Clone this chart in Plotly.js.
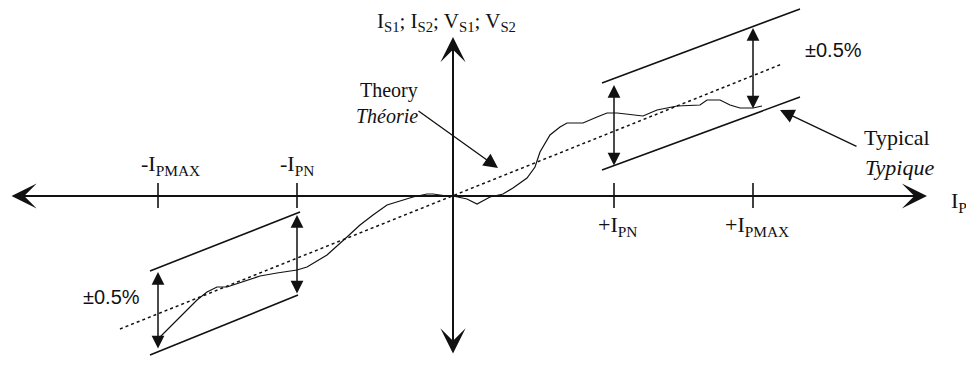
<!DOCTYPE html>
<html>
<head>
<meta charset="utf-8">
<script src="https://cdn.plot.ly/plotly-3.0.1.min.js"></script>
<style>
  html, body { margin: 0; padding: 0; background: #fff; }
  #plot { width: 966px; height: 368px; }
</style>
</head>
<body>
<div id="plot"></div>
<script>
/* schematic: units are roughly pixels from the origin */

// measured "typical" response curve
var typX = [-296, -283, -266, -256, -246, -236, -226, -210, -193, -176, -156, -146, -126, -106, -93, -80, -66, -53, -40, -26, -20, -6, 0, 14, 24, 37, 50, 60, 74, 82, 87, 97, 107, 114, 130, 144, 154, 164, 180, 190, 204, 224, 247, 254, 267, 277, 287, 300, 309];
var typY = [-144, -131, -114, -104, -96, -91, -91, -86, -80, -77, -74, -71, -59, -41, -29, -19, -9, -5, -1, 2, 2, 0, 0, -3, -8, -1, 2, 8, 18, 29, 44, 61, 69, 73, 73, 79, 83, 83, 81, 80, 86, 90, 91, 96, 96, 91, 88, 88, 90];

// theory line (dotted)
var theoryX = [-333, 329];
var theoryY = [-133, 132];

// +/-0.5% tolerance bands
var bandLeftUpX = [-303, -153], bandLeftUpY = [-75, -16];
var bandLeftLoX = [-303, -155], bandLeftLoY = [-159, -99];
var bandRightUpX = [149, 347], bandRightUpY = [113, 187];
var bandRightLoX = [149, 347], bandRightLoY = [26, 99];

// x axis ticks
var tickX = [-295, -156, 161, 300];
var tickText = ['-I<sub>PMAX</sub>', '-I<sub>PN</sub>', '+I<sub>PN</sub>', '+I<sub>PMAX</sub>'];
var tickTextY = [31, 31, -30, -30];
var tickTextX = [-314, -175, 143, 270];

// double arrows showing the tolerance
var dblX = [-295, -156, 161, 300];
var dblTop = [-76, -19, 111, 168];
var dblBot = [-154, -99, 29, 86];

// axis extents
var axisXmin = -443, axisXmax = 474;
var axisYmin = -159, axisYmax = 159;

var black = '#111';
var serif = 'Liberation Serif, Times New Roman, serif';

function seg(x, y, w, dash) {
  return {x: x, y: y, type: 'scatter', mode: 'lines', hoverinfo: 'skip',
          line: {color: black, width: w, dash: dash || 'solid'}};
}

var data = [
  seg(theoryX, theoryY, 1.5, 'dot'),
  seg(bandLeftUpX, bandLeftUpY, 1.6),
  seg(bandLeftLoX, bandLeftLoY, 1.6),
  seg(bandRightUpX, bandRightUpY, 1.6),
  seg(bandRightLoX, bandRightLoY, 1.6),
  seg(typX, typY, 1.2)
];

// tick marks
tickX.forEach(function (t) {
  data.push(seg([t, t], [13, -12], 1.6));
});

var ann = [];

// main axes with arrow heads at both ends
ann.push({x: axisXmax, y: 0, ax: axisXmin, ay: 0});
ann.push({x: 0, y: axisYmax, ax: 0, ay: axisYmin});
ann.forEach(function (a) {
  Object.assign(a, {xref: 'x', yref: 'y', axref: 'x', ayref: 'y', text: '',
    showarrow: true, arrowside: 'end+start', arrowhead: 3, startarrowhead: 3,
    arrowwidth: 2, arrowsize: 2.1, startarrowsize: 2.1, arrowcolor: black});
});

// tolerance double arrows
dblX.forEach(function (xv, i) {
  ann.push({x: xv, y: dblTop[i], ax: xv, ay: dblBot[i], xref: 'x', yref: 'y',
    axref: 'x', ayref: 'y', text: '', showarrow: true, arrowside: 'end+start',
    arrowhead: 2, startarrowhead: 2, arrowwidth: 1.5, arrowsize: 1.7,
    startarrowsize: 1.7, arrowcolor: black});
});

// pointers
ann.push({x: 45, y: 28, ax: -36, ay: 86, xref: 'x', yref: 'y', axref: 'x', ayref: 'y',
  text: '', showarrow: true, arrowhead: 2, arrowwidth: 1.3, arrowsize: 2.2, arrowcolor: black});
ann.push({x: 327, y: 86, ax: 405, ay: 49, xref: 'x', yref: 'y', axref: 'x', ayref: 'y',
  text: '', showarrow: true, arrowhead: 2, arrowwidth: 1.3, arrowsize: 2.2, arrowcolor: black});

function label(x, y, text, size, xanchor, extra) {
  var a = {x: x, y: y, xref: 'x', yref: 'y', text: text, showarrow: false,
    xanchor: xanchor || 'center', yanchor: 'middle',
    font: {family: serif, size: size, color: black}};
  return Object.assign(a, extra || {});
}

tickText.forEach(function (t, i) {
  ann.push(label(tickTextX[i], tickTextY[i], t, 22, 'left'));
});

ann.push(label(-7, 174, 'I<sub>S1</sub>; I<sub>S2</sub>; V<sub>S1</sub>; V<sub>S2</sub>', 21, 'center'));
ann.push(label(496, -6, 'I<sub>P</sub>', 22, 'left'));

ann.push(label(-33, 106, 'Theory', 20, 'right'));
ann.push(label(-33, 80, '<i>Théorie</i>', 20, 'right'));
ann.push(label(409, 59, 'Typical', 22, 'left'));
ann.push(label(410, 29, '<i>Typique</i>', 22, 'left'));

ann.push(label(-342, -101, '±0.5%', 20, 'center', {font: {family: 'Liberation Sans, Arial, sans-serif', size: 20, color: black}}));
ann.push(label(380, 146, '±0.5%', 20, 'center', {font: {family: 'Liberation Sans, Arial, sans-serif', size: 20, color: black}}));

var layout = {
  width: 966,
  height: 368,
  margin: {l: 0, r: 0, t: 0, b: 0},
  paper_bgcolor: '#fff',
  plot_bgcolor: '#fff',
  showlegend: false,
  xaxis: {range: [-453, 513], visible: false, fixedrange: true},
  yaxis: {range: [-172, 196], visible: false, fixedrange: true},
  annotations: ann
};

Plotly.newPlot('plot', data, layout, {displayModeBar: false, staticPlot: true});
</script>
</body>
</html>
